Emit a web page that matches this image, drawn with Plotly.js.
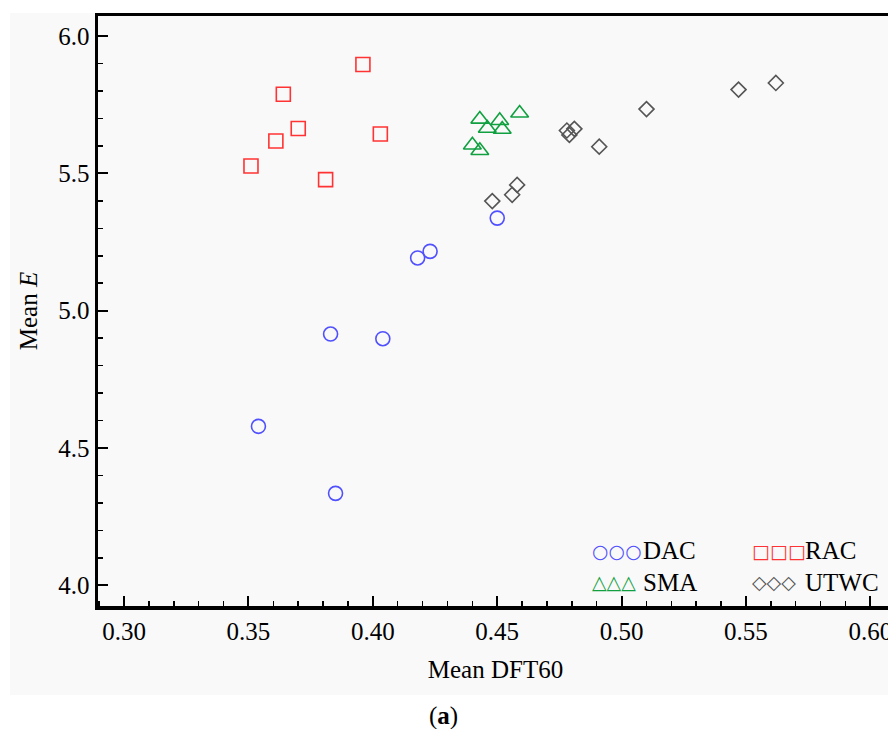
<!DOCTYPE html>
<html>
<head>
<meta charset="utf-8">
<script src="https://cdn.plot.ly/plotly-3.0.1.min.js"></script>
<style>
  html, body { margin: 0; padding: 0; overflow: hidden; background: #ffffff; }
  #backdrop { position: absolute; left: 10px; top: 13px; width: 900px; height: 682px; background: #f9f9f9; }
  #chart { position: absolute; left: 0; top: 0; width: 900px; height: 729px; }
</style>
</head>
<body>
<div id="backdrop"></div>
<div id="chart"></div>
<script>
// Mean DFT60 (x) against Mean E (y) for four groups
const seriesNames = ['DAC', 'RAC', 'SMA', 'UTWC'];

const dftDAC = [0.354, 0.385, 0.383, 0.404, 0.418, 0.423, 0.450];
const eDAC   = [4.579, 4.335, 4.915, 4.898, 5.192, 5.216, 5.337];

const dftRAC = [0.396, 0.364, 0.370, 0.361, 0.351, 0.403, 0.381];
const eRAC   = [5.896, 5.788, 5.663, 5.618, 5.527, 5.643, 5.477];

const dftSMA = [0.443, 0.451, 0.459, 0.446, 0.452, 0.440, 0.443];
const eSMA   = [5.697, 5.692, 5.719, 5.664, 5.660, 5.603, 5.583];

const dftUTWC = [0.448, 0.456, 0.458, 0.478, 0.481, 0.479, 0.491, 0.510, 0.547, 0.562];
const eUTWC   = [5.399, 5.422, 5.458, 5.656, 5.662, 5.640, 5.597, 5.734, 5.805, 5.829];

const colors  = ['#5050ff', '#ff3333', '#10a040', '#555555'];
const symbols = ['circle-open', 'square-open', 'triangle-up-open', 'diamond-open'];
const sizes   = [14, 14, 15.5, 11.5];
const legendGlyphs = ['\u25CB\u25CB\u25CB', '\u25A1\u25A1\u25A1', '\u25B3\u25B3\u25B3', '\u25C7\u25C7\u25C7'];

const xs = [dftDAC, dftRAC, dftSMA, dftUTWC];
const ys = [eDAC, eRAC, eSMA, eUTWC];

const traces = seriesNames.map((name, i) => ({
  type: 'scatter',
  mode: 'markers',
  name: name,
  x: xs[i],
  y: ys[i],
  marker: {
    symbol: symbols[i],
    size: sizes[i],
    color: colors[i],
    line: { width: 1.6, color: colors[i] }
  },
  showlegend: false,
  hoverinfo: 'x+y+name'
}));

const serif = 'Liberation Serif, Times New Roman, serif';

// Hand-placed legend block: three glyphs then the group name, two columns
const legendSlots = [
  { gx: 0.619, tx: 0.683, y: 0.094 },
  { gx: 0.820, tx: 0.887, y: 0.094 },
  { gx: 0.619, tx: 0.683, y: 0.040 },
  { gx: 0.820, tx: 0.887, y: 0.040 }
];
const annotations = [];
seriesNames.forEach((name, i) => {
  const s = legendSlots[i];
  annotations.push({
    xref: 'paper', yref: 'paper', x: s.gx, y: s.y,
    xanchor: 'left', yanchor: 'middle', showarrow: false,
    text: legendGlyphs[i],
    font: { family: 'DejaVu Sans', size: 19, color: colors[i] }
  });
  annotations.push({
    xref: 'paper', yref: 'paper', x: s.tx, y: s.y,
    xanchor: 'left', yanchor: 'middle', showarrow: false,
    text: name,
    font: { family: serif, size: 25, color: '#000000' }
  });
});
annotations.push({
  xref: 'paper', yref: 'paper', x: 0.435, y: -0.186,
  xanchor: 'center', yanchor: 'middle', showarrow: false,
  text: '(<b>a</b>)',
  font: { family: serif, size: 25, color: '#000000' }
});

const layout = {
  width: 900,
  height: 729,
  margin: { l: 98, r: 7, t: 16, b: 123 },
  paper_bgcolor: 'rgba(0,0,0,0)',
  plot_bgcolor: '#f9f9f9',
  font: { family: serif, size: 25, color: '#000000' },
  xaxis: {
    range: [0.2895, 0.6091],
    dtick: 0.05,
    tick0: 0.3,
    tickformat: '.2f',
    ticks: 'inside',
    ticklen: 10,
    tickwidth: 2,
    tickcolor: '#000000',
    minor: { ticks: 'inside', dtick: 0.01, ticklen: 5, tickwidth: 1.5, tickcolor: '#000000' },
    showline: true,
    linewidth: 3.5,
    linecolor: '#000000',
    mirror: true,
    showgrid: false,
    zeroline: false,
    tickfont: { family: serif, size: 25, color: '#000000' },
    title: { text: 'Mean DFT60', font: { family: serif, size: 25, color: '#000000' }, standoff: 18 }
  },
  yaxis: {
    range: [3.925, 6.0728],
    dtick: 0.5,
    tick0: 4.0,
    tickformat: '.1f',
    ticks: 'inside',
    ticklen: 10,
    tickwidth: 2,
    tickcolor: '#000000',
    minor: { ticks: 'inside', dtick: 0.1, ticklen: 5, tickwidth: 1.5, tickcolor: '#000000' },
    showline: true,
    linewidth: 3.5,
    linecolor: '#000000',
    mirror: true,
    showgrid: false,
    zeroline: false,
    tickfont: { family: serif, size: 25, color: '#000000' },
    title: { text: 'Mean <i>E</i>', font: { family: serif, size: 25, color: '#000000' }, standoff: 14 }
  },
  annotations: annotations
};

Plotly.newPlot('chart', traces, layout, { displayModeBar: false, staticPlot: true });
</script>
</body>
</html>
